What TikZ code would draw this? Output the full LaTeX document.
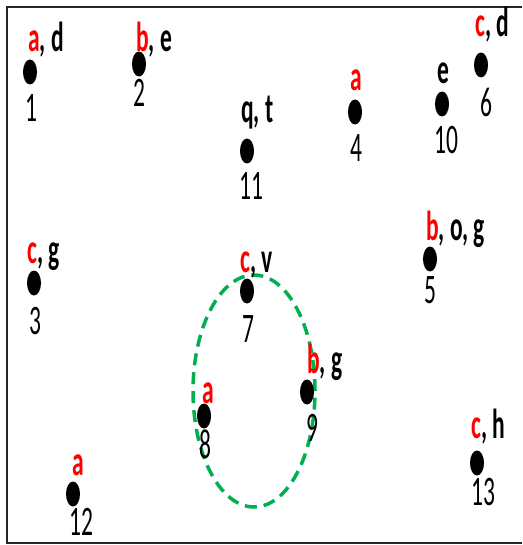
\documentclass[tikz,border=0pt]{standalone}
\usepackage{fontspec}
\usetikzlibrary{shapes.geometric}
\newfontfamily\sqfont[FakeStretch=0.56]{Carlito}
\definecolor{ptred}{RGB}{255,0,0}
\definecolor{ptgreen}{RGB}{0,176,80}
\newcommand{\rl}[1]{\textcolor{ptred}{#1}}
\begin{document}
\begin{tikzpicture}[x=1pt,y=-1pt,
  dot/.style={ellipse, fill=black, minimum width=14pt, minimum height=25pt, inner sep=0pt},
  num/.style={anchor=base, inner sep=0pt, font=\sqfont\fontsize{42}{42}\selectfont},
  tag/.style={anchor=base west, inner sep=0pt, font=\sqfont\bfseries\fontsize{42}{42}\selectfont},
  ctag/.style={anchor=base, inner sep=0pt, font=\sqfont\bfseries\fontsize{42}{42}\selectfont},
  group/.style={ellipse, draw=ptgreen, line width=3.5pt, dash pattern=on 12pt off 7pt, inner sep=0pt}
]
\useasboundingbox (0,0) rectangle (522,545);
\draw[line width=2.5pt, black!85] (522,7) -- (7,7) -- (7,543) -- (522,543);

% green cluster
\node[group, minimum width=122pt, minimum height=232pt] (cl) at (254,391) {};

% dots
\node[dot] (d1) at (30,72) {};
\node[dot] (d2) at (139,64) {};
\node[dot] (d3) at (34,283) {};
\node[dot] (d4) at (355,112) {};
\node[dot] (d5) at (430,259) {};
\node[dot] (d6) at (481,65) {};
\node[dot] (d7) at (247,291) {};
\node[dot] (d8) at (204,416) {};
\node[dot] (d9) at (307,392) {};
\node[dot] (d10) at (442,104) {};
\node[dot] (d11) at (247,151) {};
\node[dot] (d12) at (73,494) {};
\node[dot] (d13) at (477,463) {};

% numbers
\node[num] (n1) at (31,122) {1};
\node[num] (n2) at (139,107) {2};
\node[num] (n3) at (35,334) {3};
\node[num] (n4) at (356,162) {4};
\node[num] (n5) at (430,303) {5};
\node[num] (n6) at (486,117) {6};
\node[num] (n7) at (248,342) {7};
\node[num] (n8) at (205,458) {8};
\node[num] (n9) at (312,441) {9};
\node[num] (n10) at (446,154) {10};
\node[num] (n11) at (251,200) {11};
\node[num] (n12) at (81,535) {12};
\node[num] (n13) at (483,505) {13};

% letter tags
\node[tag] (t1) at (28,52) {\rl{a}, d};
\node[tag] (t2) at (136,52) {\rl{b}, e};
\node[tag] (t3) at (27,263) {\rl{c}, g};
\node[ctag] (t4) at (356,91) {\rl{a}};
\node[tag] (t5) at (426,240) {\rl{b}, o, g};
\node[tag] (t6) at (475,37) {\rl{c}, d};
\node[tag] (t7) at (240,272) {\rl{c}, v};
\node[ctag] (t8) at (208,403) {\rl{a}};
\node[tag] (t9) at (307,373) {\rl{b}, g};
\node[ctag] (t10) at (443,84) {e};
\node[tag] (t11) at (241,123) {q, t};
\node[ctag] (t12) at (78,475) {\rl{a}};
\node[tag] (t13) at (471,438) {\rl{c}, h};
\end{tikzpicture}
\end{document}
